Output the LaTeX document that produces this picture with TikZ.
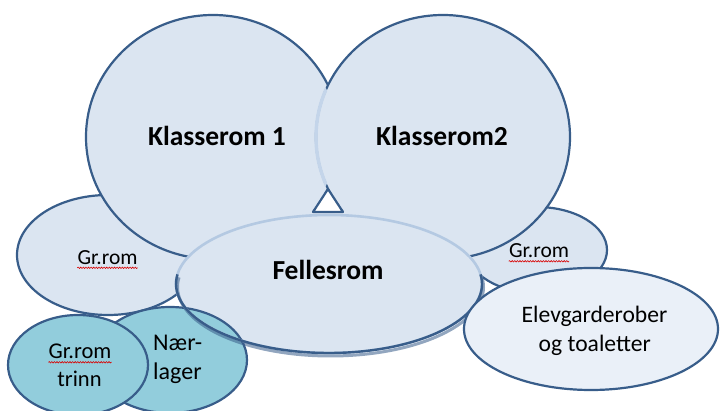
\documentclass[tikz,border=0pt]{standalone}
\usepackage{fontspec}
\setmainfont{Carlito}
\usetikzlibrary{decorations.pathmorphing}
\definecolor{bfill}{RGB}{219,229,241}
\definecolor{dline}{RGB}{56,93,138}
\definecolor{lline}{RGB}{180,201,226}
\definecolor{oline}{RGB}{196,213,234}
\definecolor{efill}{RGB}{234,240,248}
\definecolor{tfill}{RGB}{146,205,220}
\begin{document}
\begin{tikzpicture}[x=1pt,y=-1pt,
  room/.style={fill=bfill,draw=dline,line width=2.2pt},
  teal/.style={fill=tfill,draw=dline,line width=2.2pt},
  lbl/.style={inner sep=0pt,anchor=base,text=black},
  kbold/.style={lbl,font=\fontsize{27.5}{33}\selectfont\bfseries},
  grtext/.style={lbl,font=\fontsize{21.5}{26}\selectfont},
  eltext/.style={lbl,font=\fontsize{23.6}{28}\selectfont},
  trtext/.style={lbl,font=\fontsize{22.5}{27}\selectfont},
  nltext/.style={lbl,anchor=base west,font=\fontsize{24}{28}\selectfont},
  squig/.style={draw=red!85!black,line width=0.6pt,decorate,
    decoration={snake,amplitude=0.7pt,segment length=2.6pt}}]
\useasboundingbox (0,0) rectangle (721,411);
% small group rooms behind
\path[room] (108,255) ellipse [x radius=91, y radius=60];
\path[room] (537,250) ellipse [x radius=70, y radius=43];
% classrooms
\path[room] (213,137) ellipse [x radius=127, y radius=122];
\path[room] (443,137) ellipse [x radius=127, y radius=122];
\begin{scope}
  \clip (213,137) ellipse [x radius=124, y radius=118];
  \draw[oline,line width=3.4pt] (443,137) ellipse [x radius=127, y radius=122];
\end{scope}
% gap below the circles
\fill[bfill] (306,211) rectangle (350,224);
\draw[dline,line width=2.2pt,fill=white,line join=round] (328,189) -- (313,212) -- (343,212) -- cycle;
% Fellesrom fill
\fill[bfill] (329,284) ellipse [x radius=153, y radius=69];
% teal rooms
\path[teal] (170,360) ellipse [x radius=77, y radius=53];
\path[teal] (78,365) ellipse [x radius=70, y radius=50];
% Fellesrom outline
\draw[lline,line width=2.6pt] (329,284) ellipse [x radius=153, y radius=69];
\draw[dline,line width=3pt,opacity=0.55] (330.5,287) ++(-8:153 and 69) arc [start angle=-8, end angle=188, x radius=153, y radius=69];
\draw[dline,line width=2.4pt] (329,284) ++(-8:153 and 69) arc [start angle=-8, end angle=188, x radius=153, y radius=69];
% Elevgarderober
\path[fill=efill,draw=dline,line width=2.2pt] (591,329) ellipse [x radius=127, y radius=61];
% texts
\node[kbold] (k1) at (217,146) {Klasserom 1};
\node[kbold] (k2) at (442,146) {Klasserom2};
\node[kbold] (fe) at (328,280) {Fellesrom};
\node[grtext] (grl) at (107.5,264.3) {Gr.rom};
\node[grtext] (grr) at (539,257.3) {Gr.rom};
\node[eltext] (el1) at (594.5,322.7) {Elevgarderober};
\node[eltext] (el2) at (594.7,351.7) {og toaletter};
\node[trtext] (gt1) at (80,358.3) {Gr.rom};
\node[trtext] (gt2) at (79.5,386.7) {trinn};
\node[nltext] (nl1) at (153,350.7) {Nær-};
\node[nltext] (nl2) at (153,380) {lager};
% spelling squiggles
\path[squig] ([yshift=-3.5pt]grl.base west) -- ([yshift=-3.5pt]grl.base east);
\path[squig] ([yshift=-4pt]grr.base west) -- ([yshift=-4pt]grr.base east);
\path[squig] ([yshift=-4pt]gt1.base west) -- ([yshift=-4pt]gt1.base east);
\end{tikzpicture}
\end{document}
